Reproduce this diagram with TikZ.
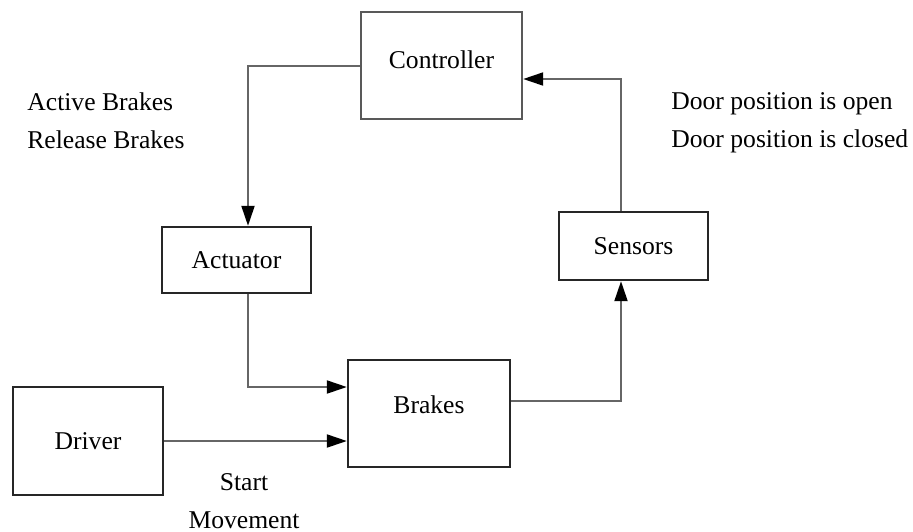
\documentclass[tikz,border=0pt]{standalone}
\usepackage{fontspec}
\setmainfont{Liberation Serif}
\usetikzlibrary{positioning,arrows.meta,calc}

\begin{document}
\begin{tikzpicture}[
            x=0.5pt, y=-0.5pt,
            font=\fontsize{12.8}{19}\selectfont,
            >={Triangle[length=10pt,width=6.5pt,color=black]},
            block/.style={
                    draw=black!85, line width=1.2pt,
                    inner sep=0pt, align=center, fill=white
                },
            lbl/.style={align=left, inner sep=0pt},
            arr/.style={->, line width=1pt, black!60},
            ]

            \useasboundingbox (0,0) rectangle (913,531);

            % blocks placed at the reference positions
            \node[block, draw=black!65, minimum width=80.5pt, minimum height=53.5pt] (ctrl) at (441.5,65.5) {Controller\\[-13.5pt]};
            \node[block, minimum width=74.5pt, minimum height=33pt] (act) at (236.5,260) {Actuator};
            \node[block, minimum width=74.5pt, minimum height=34pt] (sens) at (633.5,246) {Sensors};
            \node[block, minimum width=81pt, minimum height=53.5pt] (brk) at (429,413.5) {Brakes\\[-10.5pt]};
            \node[block, minimum width=75pt, minimum height=54pt] (drv) at (88,441) {Driver};

            % signal labels
            \node[lbl, anchor=west] (cmd) at (27,121) {Active Brakes\\Release Brakes};
            \node[lbl, anchor=west] (door) at (671,123) {Door position is open\\Door position is closed};
            \node[lbl, align=center] (start) at (244,501) {Start\\Movement};

            \draw[arr] (ctrl.west) -| ([xshift=5.75pt]act.north);
            \draw[arr] ([xshift=-6.25pt]sens.north) |- ([yshift=-6.75pt]ctrl.east);
            \draw[arr] ([xshift=5.75pt]act.south) |- ([yshift=13.25pt]brk.west);
            \draw[arr] (drv.east) -- ([yshift=-13.75pt]brk.west);
            \draw[arr] ([yshift=6.25pt]brk.east) -| ([xshift=-6.25pt]sens.south);
        \end{tikzpicture}
\end{document}
